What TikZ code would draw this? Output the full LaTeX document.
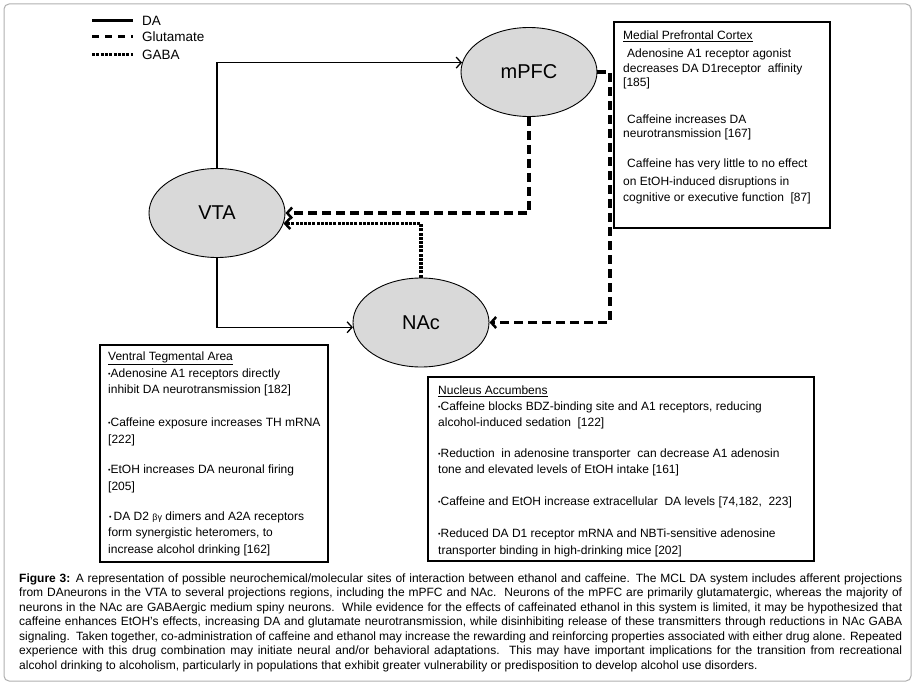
\documentclass[tikz,border=0pt]{standalone}
\usepackage{fontspec}
\setmainfont{Liberation Sans}
\usetikzlibrary{shapes.geometric,arrows.meta}
\definecolor{ellfill}{RGB}{217,217,217}
\definecolor{framegray}{RGB}{175,175,175}
\newcommand{\bul}{\raisebox{1.5pt}{\fontsize{7}{7}\selectfont •}}
\begin{document}
\begin{tikzpicture}[x=1pt,y=-1pt,
  region/.style={ellipse, draw=black, line width=0.9pt, fill=ellfill, minimum width=136pt, minimum height=89pt, inner sep=0pt, font=\fontsize{20}{24}\selectfont},
  infobox/.style={draw=black, line width=1.6pt},
  txt/.style={anchor=base west, inner sep=0pt, font=\fontsize{12}{14.5}\selectfont},
  captxt/.style={anchor=base west, inner sep=0pt, font=\fontsize{12}{14.5}\selectfont},
  legtxt/.style={anchor=west, inner sep=0pt, font=\fontsize{13.5}{16}\selectfont},
  daline/.style={line width=1.3pt, -{Straight Barb[length=5pt,width=11pt,line width=1.3pt]}},
  gluline/.style={line width=3.2pt, dash pattern=on 9pt off 5pt, -{Straight Barb[length=5pt,width=11pt,line width=2.5pt]}},
  gabaline/.style={line width=3.5pt, dash pattern=on 3pt off 1.2pt, -{Straight Barb[length=5pt,width=11pt,line width=2.5pt]}},
  legda/.style={line width=3pt},
  legglu/.style={line width=3pt, dash pattern=on 7pt off 6pt},
  leggaba/.style={line width=3pt, dash pattern=on 3pt off 1.3pt},
]
\useasboundingbox (0,0) rectangle (915,687);
% outer frame
\draw[framegray, line width=1pt, rounded corners=5pt] (4,4) rectangle (911,681);

% legend
\coordinate (lgAa) at (92,20.7);  \coordinate (lgAb) at (133,20.7);
\coordinate (lgBa) at (92,37);    \coordinate (lgBb) at (133,37);
\coordinate (lgCa) at (92,55);    \coordinate (lgCb) at (133,55);
\draw[legda] (lgAa) -- (lgAb);
\draw[legglu] (lgBa) -- (lgBb);
\draw[leggaba] (lgCa) -- (lgCb);
\node[legtxt] (lgA) at (142,20.7) {DA};
\node[legtxt] (lgB) at (142,37) {Glutamate};
\node[legtxt] (lgC) at (142,55) {GABA};

% regions
\node[region] (mPFC) at (529,72) {mPFC};
\node[region] (VTA) at (217,213) {VTA};
\node[region] (NAc) at (421,322.5) {NAc};

% connectors
\draw[daline] (VTA.north) |- (mPFC.172);
\draw[daline] (VTA.south) |- (NAc.184);
\draw[gluline] (mPFC.south) |- (VTA.east);
\draw[gabaline] (NAc.north) |- (VTA.-9.5);
\coordinate (gcorner) at (610,72);
\draw[gluline] (mPFC.east) -- (gcorner) |- (NAc.east);

% boxes
\draw[infobox] (614,22) rectangle (830,228);
\draw[infobox] (100,345) rectangle (328,562);
\draw[infobox] (428,377) rectangle (814,561);

% mPFC box text
\node[txt] (m0) at (623,39.5) {\underline{Medial Prefrontal Cortex}};
\node[txt] (m1) at (627,57.5) {Adenosine A1 receptor agonist};
\node[txt] (m2) at (623,72.5) {decreases DA D1receptor\ \ affinity};
\node[txt] (m3) at (623,86.5) {[185]};
\node[txt] (m4) at (627,123.5) {Caffeine increases DA};
\node[txt] (m5) at (623,137.5) {neurotransmission [167]};
\node[txt] (m6) at (627,167.5) {Caffeine has very little to no effect};
\node[txt] (m7) at (623,185.5) {on EtOH-induced disruptions in};
\node[txt] (m8) at (623,201) {cognitive or executive function\ \ [87]};

% VTA box text
\node[txt] (v0) at (108,360.5) {\underline{Ventral Tegmental Area}};
\node[txt] (v1) at (108,377.5) {\bul Adenosine A1 receptors directly};
\node[txt] (v2) at (108,393.5) {inhibit DA neurotransmission [182]};
\node[txt] (v3) at (108,426.5) {\bul Caffeine exposure increases TH mRNA};
\node[txt] (v4) at (108,443.5) {[222]};
\node[txt] (v5) at (108,473.5) {\bul EtOH increases DA neuronal firing};
\node[txt] (v6) at (108,490.5) {[205]};
\node[txt] (v7) at (109,520.5) {\bul\,DA D2 {\fontsize{9}{9}\selectfont βγ} dimers and A2A receptors};
\node[txt] (v8) at (108,536.5) {form synergistic heteromers, to};
\node[txt] (v9) at (108,553.5) {increase alcohol drinking [162]};

% NAc box text
\node[txt] (n0) at (438,394.5) {\underline{Nucleus Accumbens}};
\node[txt] (n1) at (438,410.5) {\bul Caffeine blocks BDZ-binding site and A1 receptors, reducing};
\node[txt] (n2) at (438,426.5) {alcohol-induced sedation\ \ [122]};
\node[txt] (n3) at (438,457.5) {\bul Reduction\ \ in adenosine transporter\ \ can decrease A1 adenosin};
\node[txt] (n4) at (438,473.5) {tone and elevated levels of EtOH intake [161]};
\node[txt] (n5) at (438,505.5) {\bul Caffeine and EtOH increase extracellular\ \ DA levels [74,182,\ \ 223]};
\node[txt] (n6) at (438,537.5) {\bul Reduced DA D1 receptor mRNA and NBTi-sensitive adenosine};
\node[txt] (n7) at (438,554.5) {transporter binding in high-drinking mice [202]};

% caption
\node[captxt] (c1) at (19,582) {\makebox[883pt][s]{\textbf{Figure 3:} A representation of possible neurochemical/molecular sites of interaction between ethanol and caffeine. The MCL DA system includes afferent projections}};
\node[captxt] (c2) at (19,596.5) {\makebox[883pt][s]{from DAneurons in the VTA to several projections regions, including the mPFC and NAc.\ \ Neurons of the mPFC are primarily glutamatergic, whereas the majority of}};
\node[captxt] (c3) at (19,611) {\makebox[883pt][s]{neurons in the NAc are GABAergic medium spiny neurons.\ \ While evidence for the effects of caffeinated ethanol in this system is limited, it may be hypothesized that}};
\node[captxt] (c4) at (19,625.5) {\makebox[883pt][s]{caffeine enhances EtOH’s effects, increasing DA and glutamate neurotransmission, while disinhibiting release of these transmitters through reductions in NAc GABA}};
\node[captxt] (c5) at (19,640) {\makebox[883pt][s]{signaling.\ \ Taken together, co-administration of caffeine and ethanol may increase the rewarding and reinforcing properties associated with either drug alone. Repeated}};
\node[captxt] (c6) at (19,654.5) {\makebox[883pt][s]{experience with this drug combination may initiate neural and/or behavioral adaptations.\ \ This may have important implications for the transition from recreational}};
\node[captxt] (c7) at (19,669) {alcohol drinking to alcoholism, particularly in populations that exhibit greater vulnerability or predisposition to develop alcohol use disorders.};
\end{tikzpicture}
\end{document}
